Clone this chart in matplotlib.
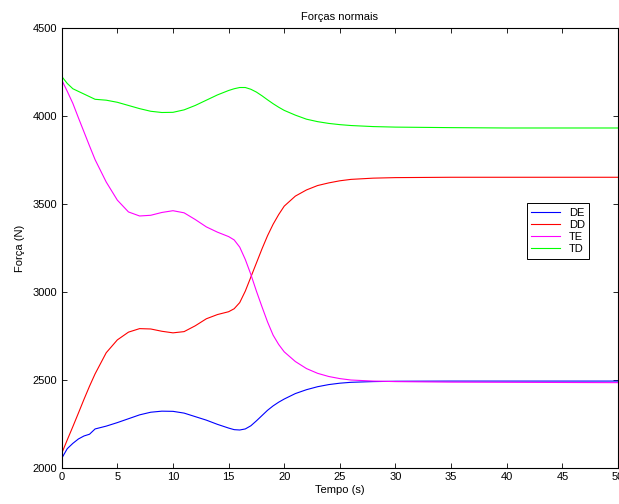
import matplotlib
matplotlib.use("Agg")
import matplotlib.pyplot as plt

plt.rcParams['font.family'] = ['Liberation Sans', 'DejaVu Sans']
plt.rcParams['font.size'] = 8

# time samples (s); first two points both at t=0 (initial jump)
tempo = [0, 0, 0.5, 1, 1.5, 2, 2.5, 3, 4, 5, 6, 7, 8, 9, 10, 11, 12, 13, 14, 15,
         15.5, 16, 16.5, 17, 17.5, 18, 18.5, 19, 19.5, 20, 21, 22, 23, 24, 25, 26,
         28, 30, 35, 40, 45, 50]

# normal forces (N)
DE = [3120, 2055, 2110, 2140, 2165, 2182, 2192, 2222, 2238, 2258, 2280, 2302, 2317,
      2323, 2322, 2312, 2292, 2272, 2248, 2227, 2218, 2216, 2222, 2240, 2268, 2298,
      2328, 2353, 2374, 2392, 2423, 2445, 2462, 2474, 2482, 2487, 2491, 2493, 2494,
      2494, 2494, 2494]
DD = [3120, 2083, 2160, 2235, 2312, 2390, 2465, 2535, 2655, 2728, 2772, 2792, 2790,
      2777, 2768, 2775, 2808, 2848, 2872, 2888, 2905, 2940, 3005, 3085, 3165, 3245,
      3320, 3385, 3440, 3488, 3545, 3580, 3605, 3620, 3632, 3640, 3647, 3650, 3652,
      3652, 3652, 3652]
TE = [3120, 4205, 4140, 4072, 3990, 3910, 3830, 3752, 3625, 3522, 3455, 3432, 3436,
      3452, 3462, 3450, 3412, 3370, 3340, 3315, 3296, 3255, 3185, 3100, 3005, 2916,
      2830, 2755, 2702, 2660, 2605, 2565, 2538, 2520, 2508, 2500, 2494, 2491, 2488,
      2487, 2486, 2485]
TD = [3120, 4225, 4185, 4155, 4140, 4125, 4110, 4095, 4090, 4078, 4060, 4042, 4027,
      4020, 4021, 4035, 4060, 4090, 4120, 4145, 4155, 4162, 4162, 4152, 4136, 4115,
      4092, 4070, 4050, 4032, 4005, 3982, 3968, 3958, 3951, 3946, 3940, 3937, 3934,
      3932, 3932, 3932]

fig = plt.figure(figsize=(6.19, 5.04), dpi=100)
ax = fig.add_axes([0.0997, 0.0714, 0.8987, 0.873])

ax.plot(tempo, DE, color='#0000ff', lw=0.8, label='DE')
ax.plot(tempo, DD, color='#ff0000', lw=0.8, label='DD')
ax.plot(tempo, TE, color='#ff00ff', lw=0.8, label='TE')
ax.plot(tempo, TD, color='#00ff00', lw=0.8, label='TD')

ax.set_xlim(0, 50)
ax.set_ylim(2000, 4500)
ax.set_xticks(range(0, 51, 5))
ax.set_yticks(range(2000, 4501, 500))
ax.tick_params(direction='in', length=3.5, width=0.6, top=True, right=True,
               labelsize=8, pad=3)
for s in ax.spines.values():
    s.set_linewidth(0.8)

ax.set_title('Forças normais', fontsize=8, pad=6)
ax.set_xlabel('Tempo (s)', fontsize=8, labelpad=2)
ax.set_ylabel('Força (N)', fontsize=8, labelpad=6)

leg = ax.legend(loc='upper left', bbox_to_anchor=(0.836, 0.602), fontsize=8,
                fancybox=False, framealpha=1, edgecolor='black', borderpad=0.4,
                handlelength=2.6, handletextpad=0.8, labelspacing=0.2,
                borderaxespad=0)
leg.get_frame().set_linewidth(0.7)

fig.savefig('out.png', dpi=100)
